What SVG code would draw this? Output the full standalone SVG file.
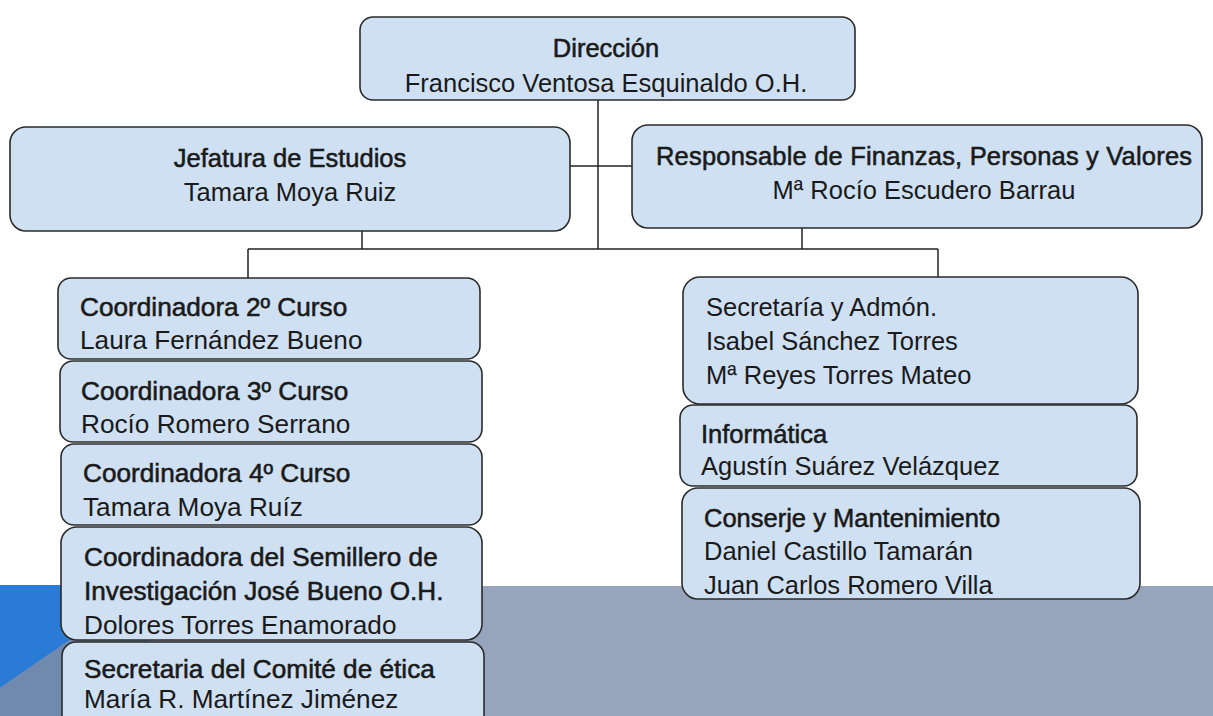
<svg xmlns="http://www.w3.org/2000/svg" width="1213" height="716" viewBox="0 0 1213 716">
<style>
.box{fill:#cfe0f2;stroke:#2b2b2b;stroke-width:1.6}
.t{font-family:"Liberation Sans",Arial,sans-serif;font-size:25.5px;fill:#1a1a1a}
.l{font-size:26.2px}
.b{stroke:#1a1a1a;stroke-width:0.55}
.c{text-anchor:middle}
.ln{stroke:#222;stroke-width:1.5;fill:none}
</style>
<rect x="0" y="0" width="1213" height="716" fill="#ffffff"/>
<rect x="0" y="586" width="1213" height="130" fill="#98a4bb"/>
<polygon points="0,585 150,585 0,688" fill="#2a7bd5"/>
<polygon points="0,688 150,585 150,716 0,716" fill="#7189ad"/>
<g id="connectors">
<line class="ln" x1="598" y1="100" x2="598" y2="249"/>
<line class="ln" x1="570" y1="166" x2="633" y2="166"/>
<line class="ln" x1="248" y1="249" x2="938" y2="249"/>
<line class="ln" x1="362" y1="231" x2="362" y2="249"/>
<line class="ln" x1="802" y1="228" x2="802" y2="249"/>
<line class="ln" x1="248" y1="249" x2="248" y2="278"/>
<line class="ln" x1="938" y1="249" x2="938" y2="277"/>
</g>
<g id="direccion">
<rect class="box" x="360" y="17" width="495" height="83" rx="13"/>
<text class="t b c" x="606" y="57">Dirección</text>
<text class="t c" x="606" y="92">Francisco Ventosa Esquinaldo O.H.</text>
</g>
<g id="jefatura">
<rect class="box" x="10" y="127" width="560" height="104" rx="16"/>
<text class="t b c" x="290" y="167">Jefatura de Estudios</text>
<text class="t c" x="290" y="201">Tamara Moya Ruiz</text>
</g>
<g id="responsable">
<rect class="box" x="632" y="125" width="570" height="103" rx="16"/>
<text class="t b c" x="924" y="165" textLength="536">Responsable de Finanzas, Personas y Valores</text>
<text class="t c" x="924" y="199">Mª Rocío Escudero Barrau</text>
</g>
<g id="coord2">
<rect class="box" x="58" y="278" width="422" height="81" rx="13"/>
<text class="t l b" x="80" y="316">Coordinadora 2º Curso</text>
<text class="t l" x="80" y="349">Laura Fernández Bueno</text>
</g>
<g id="coord3">
<rect class="box" x="60" y="361" width="422" height="81" rx="13"/>
<text class="t l b" x="81" y="400">Coordinadora 3º Curso</text>
<text class="t l" x="81" y="433">Rocío Romero Serrano</text>
</g>
<g id="coord4">
<rect class="box" x="61" y="444" width="421" height="81" rx="13"/>
<text class="t l b" x="83" y="482">Coordinadora 4º Curso</text>
<text class="t l" x="83" y="516">Tamara Moya Ruíz</text>
</g>
<g id="semillero">
<rect class="box" x="61" y="527" width="421" height="113" rx="16"/>
<text class="t l b" x="84" y="566">Coordinadora del Semillero de</text>
<text class="t l b" x="84" y="600">Investigación José Bueno O.H.</text>
<text class="t l" x="84" y="634">Dolores Torres Enamorado</text>
</g>
<g id="comite">
<rect class="box" x="62" y="642" width="422" height="90" rx="14"/>
<text class="t l b" x="84" y="678">Secretaria del Comité de ética</text>
<text class="t l" x="84" y="708">María R. Martínez Jiménez</text>
</g>
<g id="secretaria">
<rect class="box" x="683" y="277" width="455" height="127" rx="17"/>
<text class="t" x="706" y="316">Secretaría y Admón.</text>
<text class="t" x="706" y="350">Isabel Sánchez Torres</text>
<text class="t" x="706" y="384">Mª Reyes Torres Mateo</text>
</g>
<g id="informatica">
<rect class="box" x="680" y="405" width="457" height="81" rx="13"/>
<text class="t b" x="701" y="443">Informática</text>
<text class="t" x="701" y="475">Agustín Suárez Velázquez</text>
</g>
<g id="conserje">
<rect class="box" x="682" y="488" width="458" height="111" rx="16"/>
<text class="t b" x="704" y="527">Conserje y Mantenimiento</text>
<text class="t" x="704" y="560">Daniel Castillo Tamarán</text>
<text class="t" x="704" y="594">Juan Carlos Romero Villa</text>
</g>
</svg>
